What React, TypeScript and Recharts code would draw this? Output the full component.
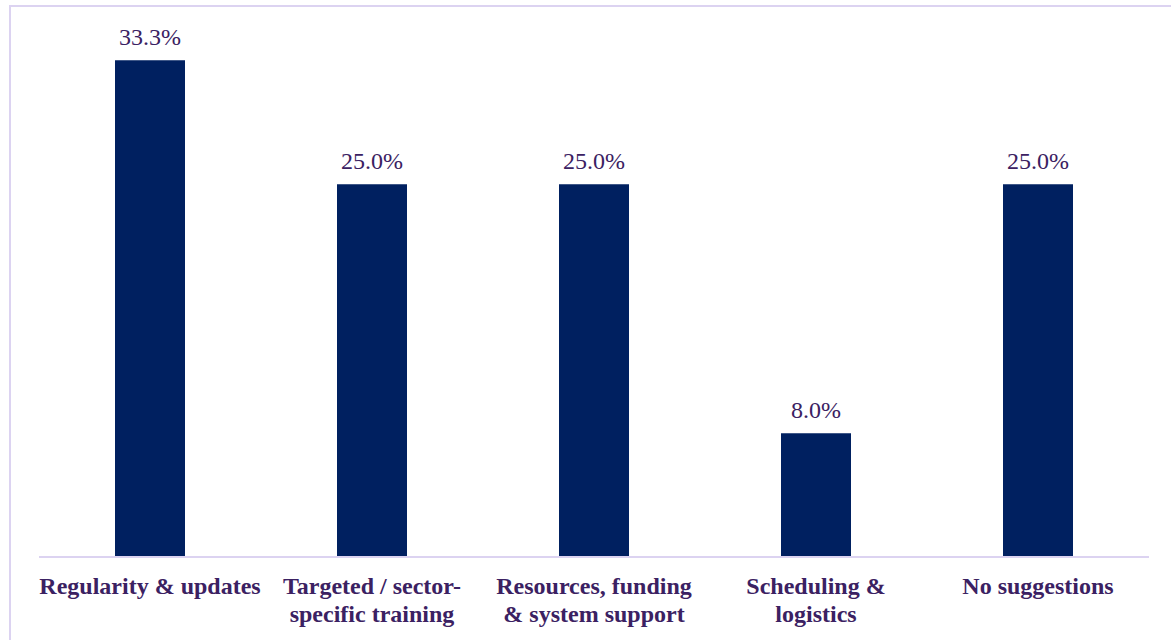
import { BarChart, Bar, XAxis, YAxis, LabelList } from "recharts"

const categories = [
  "Regularity & updates",
  "Targeted / sector-specific training",
  "Resources, funding & system support",
  "Scheduling & logistics",
  "No suggestions",
]

// wrapped lines for the category axis, as printed
const tickLines: string[][] = [
  ["Regularity & updates"],
  ["Targeted / sector-", "specific training"],
  ["Resources, funding", "& system support"],
  ["Scheduling &", "logistics"],
  ["No suggestions"],
]

const shares = [33.3, 25.0, 25.0, 8.3, 25.0]
const shareLabels = ["33.3%", "25.0%", "25.0%", "8.0%", "25.0%"]

const BAR_COLOR = "#002060"
const TEXT_COLOR = "#3b2162"
const LINE_COLOR = "#dcd3f1"
const FONT = '"Liberation Serif", "Times New Roman", serif'

const data = categories.map((name, i) => ({
  name,
  value: shares[i],
  label: shareLabels[i],
}))

function CategoryTick(props: any) {
  const { x, y, index } = props
  const lines = tickLines[index] ?? []
  return (
    <g transform={`translate(${x},${y})`}>
      {lines.map((line, i) => (
        <text
          key={i}
          x={0}
          y={37 + i * 28}
          textAnchor="middle"
          fill={TEXT_COLOR}
          style={{ fontFamily: FONT, fontSize: 24, fontWeight: 700 }}
        >
          {line}
        </text>
      ))}
    </g>
  )
}

export default function App() {
  return (
    <div style={{ position: "fixed", inset: 0, overflow: "hidden", background: "#fff", fontFamily: FONT }}>
      <div
        style={{
          position: "absolute",
          left: 9,
          top: 5,
          width: 1200,
          height: 700,
          border: `2px solid ${LINE_COLOR}`,
          boxSizing: "border-box",
        }}
      />
      <div style={{ position: "absolute", left: 0, top: 0 }}>
        <BarChart
          width={1171}
          height={640}
          data={data}
          margin={{ top: 35, right: 22, bottom: 0, left: 39 }}
          barSize={70}
          style={{ fontFamily: FONT }}
        >
          <XAxis
            dataKey="name"
            height={83}
            axisLine={{ stroke: LINE_COLOR, strokeWidth: 2 }}
            tickLine={false}
            tickSize={0}
            tickMargin={0}
            interval={0}
            tick={<CategoryTick />}
          />
          <YAxis hide domain={[0, 35]} />
          <Bar dataKey="value" fill={BAR_COLOR} isAnimationActive={false}>
            <LabelList
              dataKey="label"
              position="top"
              offset={15}
              fill={TEXT_COLOR}
              style={{ fontFamily: FONT, fontSize: 24 }}
            />
          </Bar>
        </BarChart>
      </div>
    </div>
  )
}
